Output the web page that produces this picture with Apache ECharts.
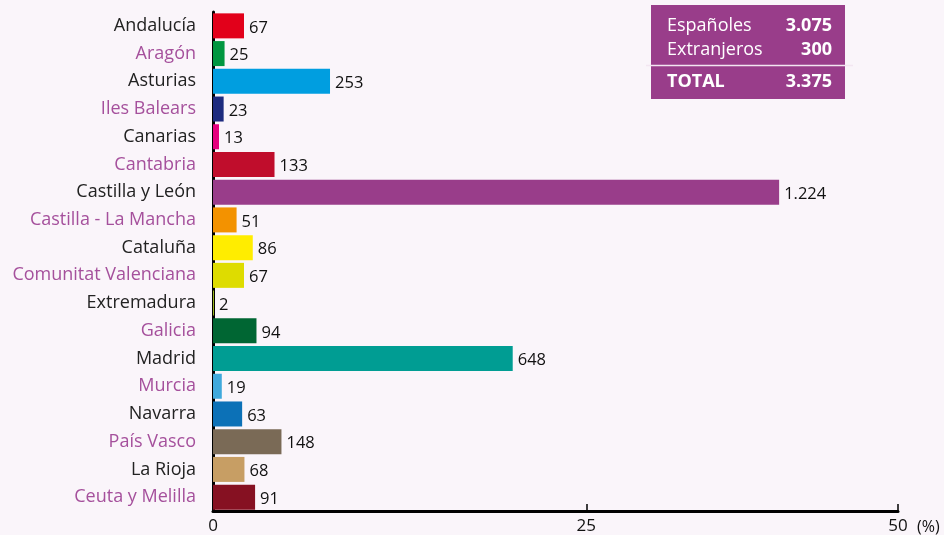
<!DOCTYPE html>
<html><head><meta charset="utf-8">
<script src="https://cdn.jsdelivr.net/npm/echarts@6/dist/echarts.min.js"></script>
<style>html,body{margin:0;padding:0;background:#faf5fa;}#c{width:944px;height:535px;}</style>
</head><body><div id="c"></div>
<script>
const categories = ['Andalucía','Aragón','Asturias','Iles Balears','Canarias','Cantabria','Castilla y León','Castilla - La Mancha','Cataluña','Comunitat Valenciana','Extremadura','Galicia','Madrid','Murcia','Navarra','País Vasco','La Rioja','Ceuta y Melilla'];
const values = [67,25,253,23,13,133,1224,51,86,67,2,94,648,19,63,148,68,91];
const barColors = ['#e2001a','#009640','#009ee0','#1d2b7f','#e5007e','#c00d2c','#993d8a','#f39200','#ffed00','#dedc00','#a8c520','#006633','#009d93','#3fa9dc','#0c71b7','#7a6a56','#c79e64','#861122'];
const tickValues = [0, 807, 1481];
const tickLabels = ['0','25','50'];
const summaryLabels = ['Españoles','Extranjeros','TOTAL'];
const summaryValues = [3075, 300, 3375];

const FONT = '"Open Sans", sans-serif';
function fmt(n){ return String(n).replace(/\B(?=(\d{3})+(?!\d))/g,'.'); }

const chart = echarts.init(document.getElementById('c'));
chart.setOption({
  backgroundColor:'#faf5fa',
  animation:false,
  grid:{left:213,right:46,top:12,bottom:24,containLabel:false},
  xAxis:{
    type:'value',min:0,max:tickValues[2],
    axisLine:{show:true,lineStyle:{color:'#000',width:3}},
    splitLine:{show:false},
    axisTick:{show:true,inside:true,length:7,customValues:tickValues.slice(1),lineStyle:{color:'#000',width:1.5}},
    axisLabel:{customValues:tickValues,margin:7,color:'#111',fontSize:17,fontFamily:FONT,
      formatter:function(v){const i=tickValues.indexOf(v);return i>=0?tickLabels[i]:'';}}
  },
  yAxis:{
    type:'category',data:categories,inverse:true,
    axisLine:{show:true,lineStyle:{color:'#000',width:3}},
    axisTick:{show:false},
    axisLabel:{margin:17,fontSize:18,fontFamily:FONT,
      color:function(v,i){return i%2===0?'#222':'#a5509c';}}
  },
  series:[{
    type:'bar',barWidth:25,
    data:values.map((v,i)=>({value:v,itemStyle:{color:barColors[i]}})),
    label:{show:true,position:'right',distance:5,offset:[0,2],color:'#111',fontSize:16.5,fontFamily:FONT,
      formatter:p=>fmt(p.value)}
  }],
  graphic:[
    {type:'rect',shape:{x:651,y:5,width:194,height:94},style:{fill:'#993d8a'}},
    {type:'line',shape:{x1:646,y1:65.5,x2:853,y2:65.5},style:{stroke:'#f3e6f1',lineWidth:1.5}},
    {type:'text',x:667,y:26,style:{text:summaryLabels[0],fill:'#fff',font:'18px '+FONT,textVerticalAlign:'middle'}},
    {type:'text',x:667,y:50,style:{text:summaryLabels[1],fill:'#fff',font:'18px '+FONT,textVerticalAlign:'middle'}},
    {type:'text',x:667,y:82,style:{text:summaryLabels[2],fill:'#fff',font:'bold 18px '+FONT,textVerticalAlign:'middle'}},
    {type:'text',x:832,y:26,style:{text:fmt(summaryValues[0]),fill:'#fff',font:'bold 18px '+FONT,textAlign:'right',textVerticalAlign:'middle'}},
    {type:'text',x:832,y:50,style:{text:fmt(summaryValues[1]),fill:'#fff',font:'bold 18px '+FONT,textAlign:'right',textVerticalAlign:'middle'}},
    {type:'text',x:832,y:82,style:{text:fmt(summaryValues[2]),fill:'#fff',font:'bold 18px '+FONT,textAlign:'right',textVerticalAlign:'middle'}},
    {type:'text',x:917,y:527,style:{text:'(%)',fill:'#111',font:'16px '+FONT,textVerticalAlign:'middle'}}
  ]
});
</script></body></html>
